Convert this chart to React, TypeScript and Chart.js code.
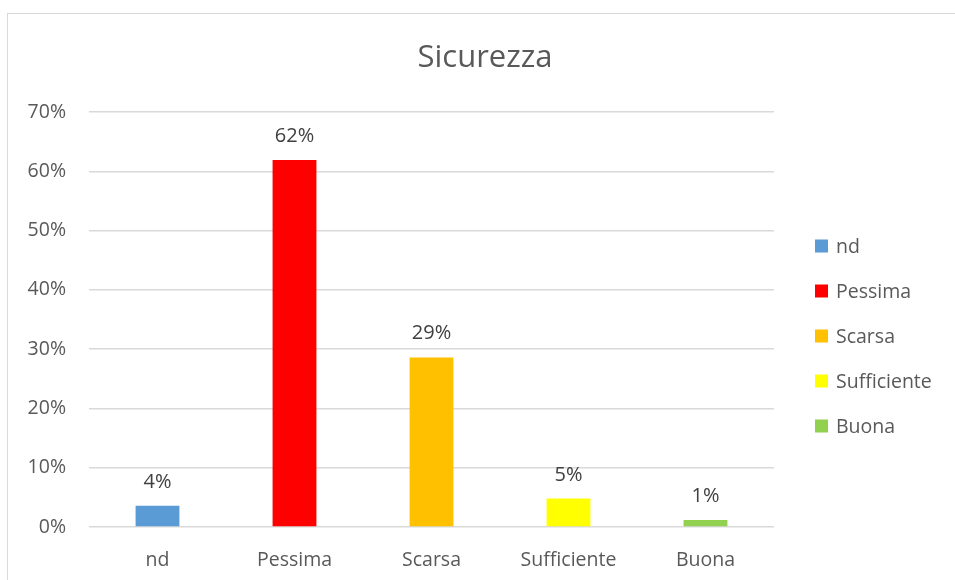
import React, { useEffect, useRef } from 'react';
import { Chart, registerables } from 'chart.js';

Chart.register(...registerables);

const categories: string[] = ['nd', 'Pessima', 'Scarsa', 'Sufficiente', 'Buona'];
const values: number[] = [0.036, 0.619, 0.286, 0.048, 0.012];
const barColors: string[] = ['#5B9BD5', '#FF0000', '#FFC000', '#FFFF00', '#92D050'];
const chartTitle = 'Sicurezza';
const yMin = 0;
const yMax = 0.7;
const yStep = 0.1;

const FONT = '"Open Sans", "Noto Sans", sans-serif';
const pct = (v: number) => Math.round(v * 100) + '%';

const titlePlugin = {
  id: 'centeredTitle',
  afterDraw(chart: any) {
    const ctx = chart.ctx;
    ctx.save();
    ctx.font = `31px ${FONT}`;
    ctx.fillStyle = '#595959';
    ctx.textAlign = 'center';
    ctx.textBaseline = 'alphabetic';
    ctx.fillText(chartTitle, chart.width / 2, 67);
    ctx.restore();
  },
};

const dataLabelPlugin = {
  id: 'dataLabels',
  afterDatasetsDraw(chart: any) {
    const ctx = chart.ctx;
    const meta = chart.getDatasetMeta(0);
    ctx.save();
    ctx.font = `20px ${FONT}`;
    ctx.fillStyle = '#404040';
    ctx.textAlign = 'center';
    ctx.textBaseline = 'alphabetic';
    meta.data.forEach((bar: any, i: number) => {
      ctx.fillText(pct(values[i]), bar.x, bar.y - 18);
    });
    ctx.restore();
  },
};

const sideLegendPlugin = {
  id: 'sideLegend',
  afterDraw(chart: any) {
    const ctx = chart.ctx;
    const boxX = chart.chartArea.right + 41;
    const firstY = 246;
    const gap = 45;
    ctx.save();
    ctx.font = `19.5px ${FONT}`;
    ctx.textBaseline = 'middle';
    ctx.textAlign = 'left';
    categories.forEach((label, i) => {
      const y = firstY + i * gap;
      ctx.fillStyle = barColors[i];
      ctx.fillRect(boxX, y - 6.5, 13, 13);
      ctx.fillStyle = '#595959';
      ctx.fillText(label, boxX + 21, y + 1);
    });
    ctx.restore();
  },
};

export default function App() {
  const canvasRef = useRef<HTMLCanvasElement | null>(null);

  useEffect(() => {
    if (!canvasRef.current) return;
    const chart = new Chart(canvasRef.current, {
      type: 'bar',
      data: {
        labels: categories,
        datasets: [
          {
            label: chartTitle,
            data: values,
            backgroundColor: barColors,
            borderWidth: 0,
            categoryPercentage: 1,
            barPercentage: 0.32,
          },
        ],
      },
      plugins: [titlePlugin, dataLabelPlugin, sideLegendPlugin],
      options: {
        animation: false,
        responsive: false,
        maintainAspectRatio: false,
        layout: { padding: { left: 0, right: 196, top: 112, bottom: 0 } },
        plugins: {
          legend: { display: false },
          tooltip: { enabled: false },
          title: { display: false },
        },
        scales: {
          x: {
            grid: { display: false },
            border: { display: false },
            ticks: {
              color: '#595959',
              font: { family: FONT, size: 19.5 },
              padding: 14,
              maxRotation: 0,
            },
            afterFit(scale: any) {
              scale.height = 53;
            },
          },
          y: {
            min: yMin,
            max: yMax,
            grid: { color: '#d9d9d9', lineWidth: 1.5, drawTicks: false },
            border: { display: false },
            ticks: {
              stepSize: yStep,
              color: '#595959',
              font: { family: FONT, size: 19.5 },
              padding: 23,
              callback: (v: any) => pct(Number(v)),
            },
            afterFit(scale: any) {
              scale.width = 89;
            },
          },
        },
      },
    });
    return () => chart.destroy();
  }, []);

  return (
    <div
      style={{
        position: 'fixed',
        left: 0,
        top: 0,
        width: 955,
        height: 580,
        overflow: 'hidden',
        background: '#ffffff',
      }}
    >
      <canvas
        ref={canvasRef}
        width={970}
        height={580}
        style={{ position: 'absolute', left: 0, top: 0, width: 970, height: 580 }}
      />
      <div
        style={{
          position: 'absolute',
          left: 7,
          top: 13,
          width: 1000,
          height: 1000,
          border: '1.5px solid #d9d9d9',
          pointerEvents: 'none',
        }}
      />
    </div>
  );
}
